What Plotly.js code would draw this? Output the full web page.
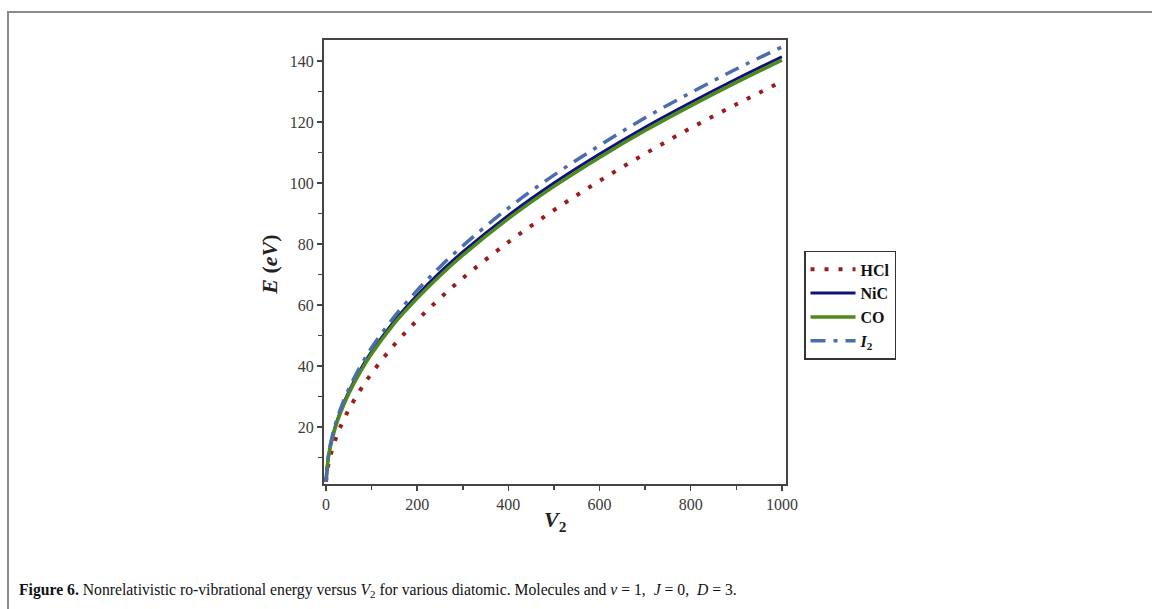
<!DOCTYPE html>
<html>
<head>
<meta charset="utf-8">
<script src="https://cdn.plot.ly/plotly-3.0.1.min.js"></script>
<style>
  html, body { margin: 0; padding: 0; background: #fff; }
  #frame { position: absolute; left: 7px; top: 11px; right: 0; bottom: 0;
           border-top: 2px solid #8a8a8a; border-left: 2px solid #8a8a8a; }
  #chart { position: absolute; left: 0; top: 0; width: 1152px; height: 609px; }
</style>
</head>
<body>
<div id="frame"></div>
<div id="chart"></div>
<script>
// V2 values (x axis)
const v2 = [0, 5, 10, 20, 30, 50, 75, 100, 150, 200, 250, 300, 400, 500, 600, 700, 800, 900, 1000];
// Energies E (eV)
const eHCl = [2, 7.5, 10.8, 15.6, 19.5, 25.7, 32.1, 37.6, 47.0, 55.0, 62.2, 68.8, 80.6, 91.1, 100.7, 109.6, 118.0, 125.8, 133.3];
const eNiC = [2, 10, 14.1, 20, 24.5, 31.6, 38.7, 44.7, 54.8, 63.2, 70.7, 77.4, 89.4, 100, 109.5, 118.3, 126.4, 134.1, 141.4];
const eCO  = [2, 9.8, 13.8, 19.6, 24, 31, 38, 44, 54, 62.2, 69.6, 76.3, 88.3, 98.9, 108.4, 117.2, 125.3, 133, 140.3];
const eI2  = [2, 10.4, 14.6, 20.6, 25.2, 32.5, 39.8, 46, 56.2, 64.8, 72.5, 79.4, 91.8, 102.6, 112.3, 121.4, 129.6, 137.4, 144.6];

const names = ['<b>HCl</b>', '<b>NiC</b>', '<b>CO</b>', '<b><i>I</i><sub>2</sub></b>'];
const xTicks = [0, 200, 400, 600, 800, 1000];
const yTicks = [20, 40, 60, 80, 100, 120, 140];

const serif = 'Liberation Serif, Times New Roman, serif';

const traces = [
  {x: v2, y: eHCl, name: names[0], mode: 'lines', line: {color: '#9b1c1c', width: 4, dash: '4px,10px', shape: 'spline'}},
  {x: v2, y: eNiC, name: names[1], mode: 'lines', line: {color: '#10107e', width: 3, shape: 'spline'}},
  {x: v2, y: eCO,  name: names[2], mode: 'lines', line: {color: '#4e8a1e', width: 3.5, shape: 'spline'}},
  {x: v2, y: eI2,  name: names[3], mode: 'lines', line: {color: '#4a6ea9', width: 3.5, dash: '15px,8px,4px,8px', shape: 'spline'}}
];

const layout = {
  width: 1152, height: 609,
  paper_bgcolor: 'rgba(0,0,0,0)', plot_bgcolor: '#fff',
  margin: {l: 324, r: 366, t: 40, b: 125},
  showlegend: true,
  legend: {
    x: 1.039, y: 0.525, xanchor: 'left', yanchor: 'top',
    bordercolor: '#333', borderwidth: 1.5, bgcolor: '#fff',
    font: {family: serif, size: 16, color: '#111'},
    itemwidth: 45, tracegroupgap: 0
  },
  xaxis: {
    range: [-4.4, 1009], tickvals: xTicks, ticktext: xTicks.map(String),
    showgrid: false, zeroline: false,
    showline: true, mirror: true, linecolor: '#444', linewidth: 2,
    ticks: 'outside', ticklen: 5, tickcolor: '#444', tickwidth: 1.5,
    minor: {ticks: 'outside', ticklen: 4, dtick: 100, tick0: 0, tickcolor: '#444', showgrid: false},
    tickfont: {family: serif, size: 16, color: '#3a3a3a'}
  },
  yaxis: {
    range: [1.3, 146.9], tickvals: yTicks, ticktext: yTicks.map(String),
    showgrid: false, zeroline: false,
    showline: true, mirror: true, linecolor: '#444', linewidth: 2,
    ticks: 'outside', ticklen: 5, tickcolor: '#444', tickwidth: 1.5,
    minor: {ticks: 'outside', ticklen: 4, dtick: 10, tick0: 0, tickcolor: '#444', showgrid: false},
    tickfont: {family: serif, size: 16, color: '#3a3a3a'}
  },
  annotations: [
    {xref: 'paper', yref: 'paper', x: -0.118, y: 0.495, textangle: -90, showarrow: false,
     xanchor: 'center', yanchor: 'middle',
     text: '<b><i>E</i> (<i>eV</i>)</b>', font: {family: serif, size: 22, color: '#222'}},
    {xref: 'paper', yref: 'paper', x: 0.5, y: -0.083, showarrow: false,
     xanchor: 'center', yanchor: 'middle',
     text: '<b><i>V</i><sub>2</sub></b>', font: {family: serif, size: 22, color: '#222'}},
    {xref: 'paper', yref: 'paper', x: -0.664, y: -0.239, showarrow: false,
     xanchor: 'left', yanchor: 'middle', align: 'left',
     text: '<b>Figure 6.</b> Nonrelativistic ro-vibrational energy versus <i>V</i><sub>2</sub> for various diatomic. Molecules and <i>ν</i> = 1,  <i>J</i> = 0,  <i>D</i> = 3.',
     font: {family: serif, size: 15.7, color: '#111'}}
  ]
};

Plotly.newPlot('chart', traces, layout, {displayModeBar: false, staticPlot: true});
</script>
</body>
</html>
